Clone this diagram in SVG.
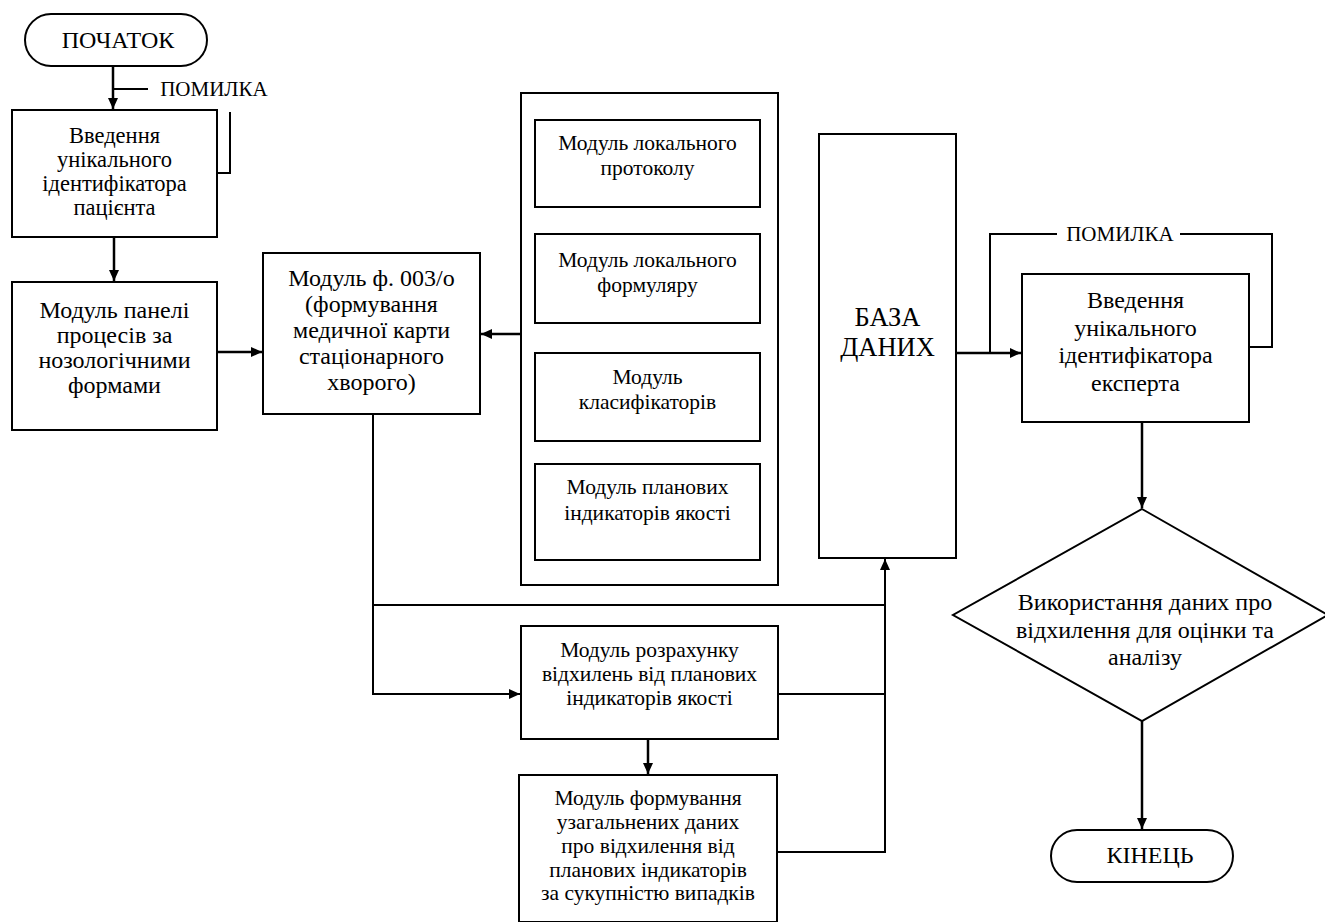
<svg xmlns="http://www.w3.org/2000/svg" width="1325" height="922" viewBox="0 0 1325 922" font-family="Liberation Serif, DejaVu Serif, serif">
<style>
  .box { fill: #fff; stroke: #000; stroke-width: 2; }
  .ln { fill: none; stroke: #000; stroke-width: 2; }
  .ar { fill: none; stroke: #000; stroke-width: 2.5; }
  text { fill: #000; text-anchor: middle; dominant-baseline: central; }
  .tl { font-size: 21px; }
  .ts { font-size: 21.5px; }
  .tm { font-size: 22.5px; }
  .tb { font-size: 24px; }
  .tdb { font-size: 26.5px; }
</style>
<defs>
  <marker id="ah" markerUnits="userSpaceOnUse" markerWidth="12" markerHeight="10" refX="11" refY="5" orient="auto">
    <path d="M0,0 L11,5 L0,10 Z" fill="#000"/>
  </marker>
</defs>

<g id="connectors">
  <line class="ar" x1="113" y1="66" x2="113" y2="109" marker-end="url(#ah)"/>
  <line class="ln" x1="113" y1="89" x2="148" y2="89"/>
  <polyline class="ln" points="217,173 230,173 230,112"/>
  <line class="ar" x1="114" y1="237" x2="114" y2="281" marker-end="url(#ah)"/>
  <line class="ar" x1="217" y1="352" x2="262" y2="352" marker-end="url(#ah)"/>
  <line class="ar" x1="521" y1="334" x2="481" y2="334" marker-end="url(#ah)"/>
  <line class="ln" x1="648" y1="207" x2="648" y2="234"/>
  <line class="ln" x1="648" y1="323" x2="648" y2="353"/>
  <line class="ln" x1="648" y1="441" x2="648" y2="464"/>
  <line class="ar" x1="956" y1="353" x2="1021" y2="353" marker-end="url(#ah)"/>
  <polyline class="ln" points="990,353 990,234 1057,234"/>
  <polyline class="ln" points="1180,234 1272,234 1272,347 1249,347"/>
  <line class="ar" x1="1142" y1="422" x2="1142" y2="508" marker-end="url(#ah)"/>
  <line class="ar" x1="1142" y1="721" x2="1142" y2="829" marker-end="url(#ah)"/>
  <polyline class="ln" points="373,414 373,694 520,694" marker-end="url(#ah)"/>
  <line class="ln" x1="373" y1="605" x2="885" y2="605"/>
  <line class="ar" x1="648" y1="739" x2="648" y2="774" marker-end="url(#ah)"/>
  <line class="ln" x1="778" y1="694" x2="885" y2="694"/>
  <polyline class="ln" points="777,852 885,852 885,559" marker-end="url(#ah)"/>
  <text class="tl" x="214" y="89">ПОМИЛКА</text>
  <text class="tl" x="1120" y="234">ПОМИЛКА</text>
</g>

<g id="start">
  <rect class="box" x="25" y="14" width="182" height="52" rx="26"/>
  <text class="tb" x="118" y="40">ПОЧАТОК</text>
</g>

<g id="patient-id">
  <rect class="box" x="12" y="110" width="205" height="127"/>
  <text class="tm" x="114.5" y="135">Введення</text>
  <text class="tm" x="114.5" y="159">унікального</text>
  <text class="tm" x="114.5" y="183">ідентифікатора</text>
  <text class="tm" x="114.5" y="207">пацієнта</text>
</g>

<g id="process-panel">
  <rect class="box" x="12" y="282" width="205" height="148"/>
  <text class="tb" x="114.5" y="310">Модуль панелі</text>
  <text class="tb" x="114.5" y="335">процесів за</text>
  <text class="tb" x="114.5" y="360">нозологічними</text>
  <text class="tb" x="114.5" y="385">формами</text>
</g>

<g id="form003">
  <rect class="box" x="263" y="253" width="217" height="161"/>
  <text class="tb" x="371.5" y="278">Модуль ф. 003/о</text>
  <text class="tb" x="371.5" y="304">(формування</text>
  <text class="tb" x="371.5" y="330">медичної карти</text>
  <text class="tb" x="371.5" y="356">стаціонарного</text>
  <text class="tb" x="371.5" y="382">хворого)</text>
</g>

<g id="modules-container">
  <rect class="box" x="521" y="93" width="257" height="492"/>
</g>

<g id="local-protocol">
  <rect class="box" x="535" y="120" width="225" height="87"/>
  <text class="ts" x="647.5" y="143">Модуль локального</text>
  <text class="ts" x="647.5" y="168">протоколу</text>
</g>

<g id="local-formulary">
  <rect class="box" x="535" y="234" width="225" height="89"/>
  <text class="ts" x="647.5" y="260">Модуль локального</text>
  <text class="ts" x="647.5" y="285">формуляру</text>
</g>

<g id="classifiers">
  <rect class="box" x="535" y="353" width="225" height="88"/>
  <text class="ts" x="647.5" y="377">Модуль</text>
  <text class="ts" x="647.5" y="402">класифікаторів</text>
</g>

<g id="quality-indicators">
  <rect class="box" x="535" y="464" width="225" height="96"/>
  <text class="ts" x="647.5" y="487">Модуль планових</text>
  <text class="ts" x="647.5" y="513">індикаторів якості</text>
</g>

<g id="database">
  <rect class="box" x="819" y="134" width="137" height="424"/>
  <text class="tdb" x="887.5" y="317">БАЗА</text>
  <text class="tdb" x="887.5" y="347">ДАНИХ</text>
</g>

<g id="expert-id">
  <rect class="box" x="1022" y="274" width="227" height="148"/>
  <text class="tb" x="1135.5" y="300">Введення</text>
  <text class="tb" x="1135.5" y="328">унікального</text>
  <text class="tb" x="1135.5" y="355">ідентифікатора</text>
  <text class="tb" x="1135.5" y="383">експерта</text>
</g>

<g id="usage-decision">
  <polygon class="box" points="1142,509 1328,615 1142,721 953,615"/>
  <text class="tb" x="1145" y="602">Використання даних про</text>
  <text class="tb" x="1145" y="630">відхилення для оцінки та</text>
  <text class="tb" x="1145" y="657">аналізу</text>
</g>

<g id="end">
  <rect class="box" x="1051" y="830" width="182" height="52" rx="26"/>
  <text class="tb" x="1150" y="855">КІНЕЦЬ</text>
</g>

<g id="deviation-calc">
  <rect class="box" x="521" y="626" width="257" height="113"/>
  <text class="ts" x="649.5" y="650">Модуль розрахунку</text>
  <text class="ts" x="649.5" y="674">відхилень від планових</text>
  <text class="ts" x="649.5" y="698">індикаторів якості</text>
</g>

<g id="aggregate-data">
  <rect class="box" x="519" y="775" width="258" height="147"/>
  <text class="ts" x="648" y="798">Модуль формування</text>
  <text class="ts" x="648" y="822">узагальнених даних</text>
  <text class="ts" x="648" y="846">про відхилення від</text>
  <text class="ts" x="648" y="870">планових індикаторів</text>
  <text class="ts" x="648" y="893">за сукупністю випадків</text>
</g>
</svg>
